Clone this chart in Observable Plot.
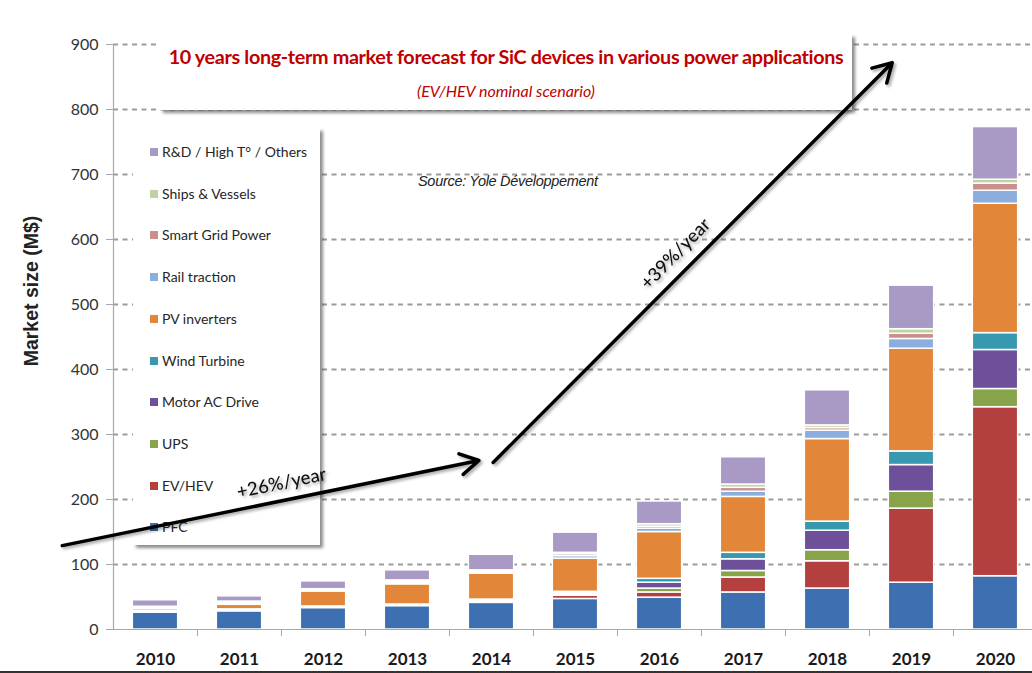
<!DOCTYPE html>
<html>
<head>
<meta charset="utf-8">
<script src="https://cdn.jsdelivr.net/npm/d3@7"></script>
<script src="https://cdn.jsdelivr.net/npm/@observablehq/plot@0.6"></script>
<style>
  body { margin: 0; background: #fff; }
  #wrap { position: relative; width: 1032px; height: 673px; overflow: hidden; background: #fff; }
  #wrap svg { position: absolute; left: 0; top: 0; }
  #wrap svg.overlay { filter: drop-shadow(2px 2px 1.5px rgba(0,0,0,0.35)); }
  #wrap svg g[aria-label="x-axis tick label"] text { font-weight: bold; font-size: 17px; fill: #1a1a1a; }
  #wrap svg g[aria-label="y-axis tick label"] text { font-size: 16px; fill: #333; }
  .titlebox { position: absolute; left: 160px; top: 34px; width: 692px; height: 76px; background: #fff;
    box-shadow: 3px 3px 3px rgba(0,0,0,0.45); font-family: Lato, sans-serif; color: #C00000; text-align: center; }
  .titlebox .t { position: absolute; left: 0; right: 0; top: 10px; font-weight: bold; font-size: 19.8px; letter-spacing: -0.35px; white-space: nowrap; }
  .titlebox .s { position: absolute; left: 0; right: 0; top: 47px; font-style: italic; font-size: 16px; white-space: nowrap; }
  .legend { position: absolute; left: 133px; top: 128px; width: 187px; height: 417px; background: #fff;
    box-shadow: 3px 3px 3px rgba(0,0,0,0.45); font-family: Lato, sans-serif; font-size: 14px; color: #262626; }
  .legend .it { position: absolute; left: 17px; height: 20px; line-height: 20px; white-space: nowrap; }
  .legend .sw { display: inline-block; width: 8px; height: 8px; margin-right: 4px; vertical-align: 1px; }
  .source { position: absolute; left: 418px; top: 173px; font-family: "Liberation Sans", Arial, sans-serif; font-style: italic; font-size: 14.5px; color: #222; letter-spacing: -0.3px; }
  .bottomline { position: absolute; left: 0; right: 0; bottom: 0; height: 2px; background: #333; }
</style>
</head>
<body>
<div id="wrap"></div>
<script>
// ---- Data ----
const years = [2010, 2011, 2012, 2013, 2014, 2015, 2016, 2017, 2018, 2019, 2020];
const categories = ["PFC", "EV/HEV", "UPS", "Motor AC Drive", "Wind Turbine", "PV inverters",
  "Rail traction", "Smart Grid Power", "Ships & Vessels", "R&D / High T° / Others"];
const colors = ["#3E6FB0", "#B3403F", "#88A44B", "#6D4F9A", "#3799B0", "#E2863A",
  "#8BAEDF", "#C98F8C", "#BFD3A0", "#A99AC5"];

const pfc       = [26, 28, 33, 36, 41, 47, 49, 57, 63, 72, 82];
const evHev     = [0.5, 1, 1, 1, 2, 5, 8, 23, 42, 114, 260];
const ups       = [0.5, 0.5, 0.5, 0.5, 1, 2, 6, 10, 17, 26, 28];
const motorAc   = [1, 1, 0.5, 0.5, 1, 2, 9, 18, 30, 41, 60];
const wind      = [0.5, 0.5, 0.5, 0.5, 1, 2, 6, 10, 14, 21, 26];
const pv        = [3, 7, 23, 31, 40, 51, 72, 86, 127, 158, 199];
const rail      = [1.5, 2, 1.5, 2, 2, 4, 5, 8, 13, 15, 20];
const smartGrid = [1, 2, 1, 2, 2, 3, 3, 6, 4, 8, 11];
const ships     = [1, 1, 1, 2, 1, 2, 4, 5, 4, 7, 6];
const rnd       = [10, 8, 12, 15.5, 24, 31, 35, 42, 54, 67, 81];

const yTicks = [0, 100, 200, 300, 400, 500, 600, 700, 800, 900];

// Growth arrows (year, M$) and their labels
const arrowFromYear = [2008.89, 2014.02];
const arrowFromValue = [129, 257];
const arrowToYear = [2013.85, 2018.77];
const arrowToValue = [260, 872];
const arrowLabels = ["+26%/year", "+39%/year"];
const labelYear = [2011.5, 2016.19];
const labelValue = [225, 578];
const labelAngle = [-11.8, -45.5];

const titleText = "10 years long-term market forecast for SiC devices in various power applications";
const subtitleText = "(EV/HEV nominal scenario)";
const sourceText = "Source: Yole Développement";
const yLabel = "Market size (M$)";

// ---- Build tables ----
const series = [pfc, evHev, ups, motorAc, wind, pv, rail, smartGrid, ships, rnd];
const rows = [];
years.forEach((yr, i) => {
  let acc = 0;
  categories.forEach((c, j) => {
    const v = series[j][i];
    rows.push({year: yr, cat: c, y1: acc, y2: acc + v});
    acc += v;
  });
});
const arrows = arrowLabels.map((l, i) => ({x1: arrowFromYear[i], y1: arrowFromValue[i], x2: arrowToYear[i], y2: arrowToValue[i]}));
const labels = arrowLabels.map((l, i) => ({text: l, x: labelYear[i], y: labelValue[i], r: labelAngle[i]}));
const xDomain = [years[0] - 0.5, years[years.length - 1] + 0.5];
const boundaries = years.slice(0, -1).map(y => y + 0.5);
const half = 0.27;

const common = {
  width: 1032,
  height: 673,
  marginLeft: 113,
  marginRight: 0,
  marginTop: 44,
  marginBottom: 44,
  style: {fontFamily: "Lato, sans-serif", fontSize: "16px", color: "#333", background: "transparent", overflow: "visible"}
};

const chart = Plot.plot({
  ...common,
  x: {domain: xDomain, range: [113, 1037]},
  y: {domain: [0, 900]},
  color: {domain: categories, range: colors},
  marks: [
    Plot.ruleY(yTicks.filter(d => d > 0), {stroke: "#9c9c9c", strokeWidth: 1.8, strokeDasharray: "5,4.5"}),
    Plot.rect(rows, {x1: d => d.year - half, x2: d => d.year + half, y1: "y1", y2: "y2", fill: "cat", stroke: "white", strokeWidth: 1.5}),
    Plot.ruleY([0], {stroke: "#a8a8a8", strokeWidth: 1.2}),
    Plot.ruleX([xDomain[0]], {stroke: "#a8a8a8", strokeWidth: 1.2}),
    Plot.axisY({ticks: yTicks, tickSize: 7, tickPadding: 8, stroke: "#a8a8a8", label: null}),
    Plot.text([yLabel], {frameAnchor: "left", textAnchor: "middle", dx: -82, dy: -46, rotate: -90, fontSize: 19.5, fontWeight: "bold",
      fontFamily: "Liberation Sans, Arial, sans-serif", fill: "#222", letterSpacing: "1.8px"}),
    Plot.axisX({ticks: years, tickSize: 0, tickPadding: 23, tickFormat: d => String(d), label: null}),
    Plot.axisX({ticks: boundaries, tickSize: 7, tickFormat: () => "", stroke: "#a8a8a8", label: null})
  ]
});

const overlay = Plot.plot({
  ...common,
  x: {domain: xDomain, range: [113, 1037], axis: null},
  y: {domain: [0, 900], axis: null},
  marks: [
    Plot.arrow(arrows, {x1: "x1", y1: "y1", x2: "x2", y2: "y2", stroke: "black", strokeWidth: 3.5, headLength: 9}),
    Plot.text(labels, {x: "x", y: "y", text: "text", rotate: "r", fontSize: 18.5, fill: "#111", fontWeight: 500})
  ]
});
overlay.classList.add("overlay");

const wrap = document.getElementById("wrap");
wrap.appendChild(chart);

// Title box
const tb = document.createElement("div");
tb.className = "titlebox";
tb.innerHTML = `<div class="t"></div><div class="s"></div>`;
tb.querySelector(".t").textContent = titleText;
tb.querySelector(".s").textContent = subtitleText;
wrap.appendChild(tb);

// Legend box (top to bottom = reverse stacking order)
const lg = document.createElement("div");
lg.className = "legend";
const order = categories.map((c, i) => i).reverse();
order.forEach((idx, k) => {
  const it = document.createElement("div");
  it.className = "it";
  it.style.top = (14 + k * 41.7) + "px";
  const sw = document.createElement("span");
  sw.className = "sw";
  sw.style.background = colors[idx];
  it.appendChild(sw);
  it.appendChild(document.createTextNode(categories[idx]));
  lg.appendChild(it);
});
wrap.appendChild(lg);

// Source
const src = document.createElement("div");
src.className = "source";
src.textContent = sourceText;
wrap.appendChild(src);

const bl = document.createElement("div");
bl.className = "bottomline";
wrap.appendChild(bl);

// Arrows and growth labels on top of the boxes
wrap.appendChild(overlay);
</script>
</body>
</html>
